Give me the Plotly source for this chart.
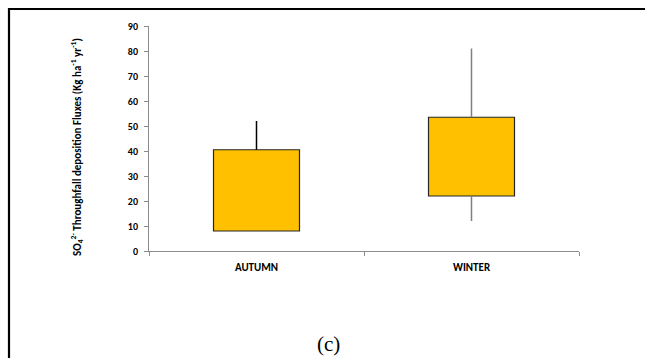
import plotly.graph_objects as go

# Seasonal SO4 2- throughfall deposition fluxes (box = interquartile range, lines = min/max)
seasons = ["AUTUMN", "WINTER"]
box_low = [8, 22]
box_high = [40.5, 53.5]
whisker_low = [8, 12]
whisker_high = [52, 81]
whisker_colors = ["#000000", "#7f7f7f"]
y_ticks = [0, 10, 20, 30, 40, 50, 60, 70, 80, 90]

fig = go.Figure()

# Whiskers: from box edges out to the extreme values
for i, s in enumerate(seasons):
    fig.add_trace(go.Scatter(
        x=[s, s, None, s, s],
        y=[box_high[i], whisker_high[i], None, box_low[i], whisker_low[i]],
        mode="lines",
        line=dict(color=whisker_colors[i], width=1.5),
        showlegend=False,
        hoverinfo="skip",
    ))

# Boxes as floating bars
fig.add_trace(go.Bar(
    x=seasons,
    base=box_low,
    y=[h - l for h, l in zip(box_high, box_low)],
    width=0.4,
    marker=dict(color="#FFC000", line=dict(color="#262626", width=1.2)),
    showlegend=False,
))

L, R, T, B = 149, 66, 26, 107
W, H = 645, 358
pw, ph = W - L - R, H - T - B


def px_x(x):
    return (x - L) / pw


def px_y(y):
    return (H - B - y) / ph


sans = "Carlito, Lato, Liberation Sans, sans-serif"

fig.update_layout(
    width=W, height=H,
    margin=dict(l=L, r=R, t=T, b=B),
    paper_bgcolor="white", plot_bgcolor="white",
    xaxis=dict(
        type="category", range=[-0.5, 1.5],
        showline=True, linecolor="#8c8c8c", linewidth=1,
        ticks="outside", tickson="boundaries", ticklen=4, tickcolor="#8c8c8c",
        showgrid=False, zeroline=False,
        tickfont=dict(family=sans, size=11, color="#000000", weight="bold"),
        ticklabelstandoff=6,
    ),
    yaxis=dict(
        range=[0, 90], tickvals=y_ticks,
        showline=True, linecolor="#8c8c8c", linewidth=1,
        ticks="outside", ticklen=4, tickcolor="#8c8c8c",
        showgrid=False, zeroline=False,
        tickfont=dict(family=sans, size=10, color="#000000", weight="bold"),
        ticklabelstandoff=4,
    ),
    shapes=[
        dict(type="line", xref="paper", yref="paper",
             x0=px_x(9), x1=px_x(W + 5), y0=px_y(9), y1=px_y(9),
             line=dict(color="black", width=2.2)),
        dict(type="line", xref="paper", yref="paper",
             x0=px_x(9), x1=px_x(9), y0=px_y(8), y1=px_y(H + 5),
             line=dict(color="black", width=2.2)),
    ],
    annotations=[
        dict(text="SO<sub>4</sub><sup>2-</sup> Throughfall deposition Fluxes (Kg ha<sup>-1</sup> yr<sup>-1</sup>)",
             xref="paper", yref="paper", x=px_x(77), y=px_y(147),
             textangle=-90, showarrow=False, xanchor="center", yanchor="middle",
             font=dict(family=sans, size=11, color="black", weight="bold")),
        dict(text="(c)", xref="paper", yref="paper", x=px_x(328), y=px_y(344),
             showarrow=False, xanchor="center", yanchor="middle",
             font=dict(family="Liberation Serif, Times New Roman, serif", size=21,
                       color="black")),
    ],
)

fig.write_html("out.html")
